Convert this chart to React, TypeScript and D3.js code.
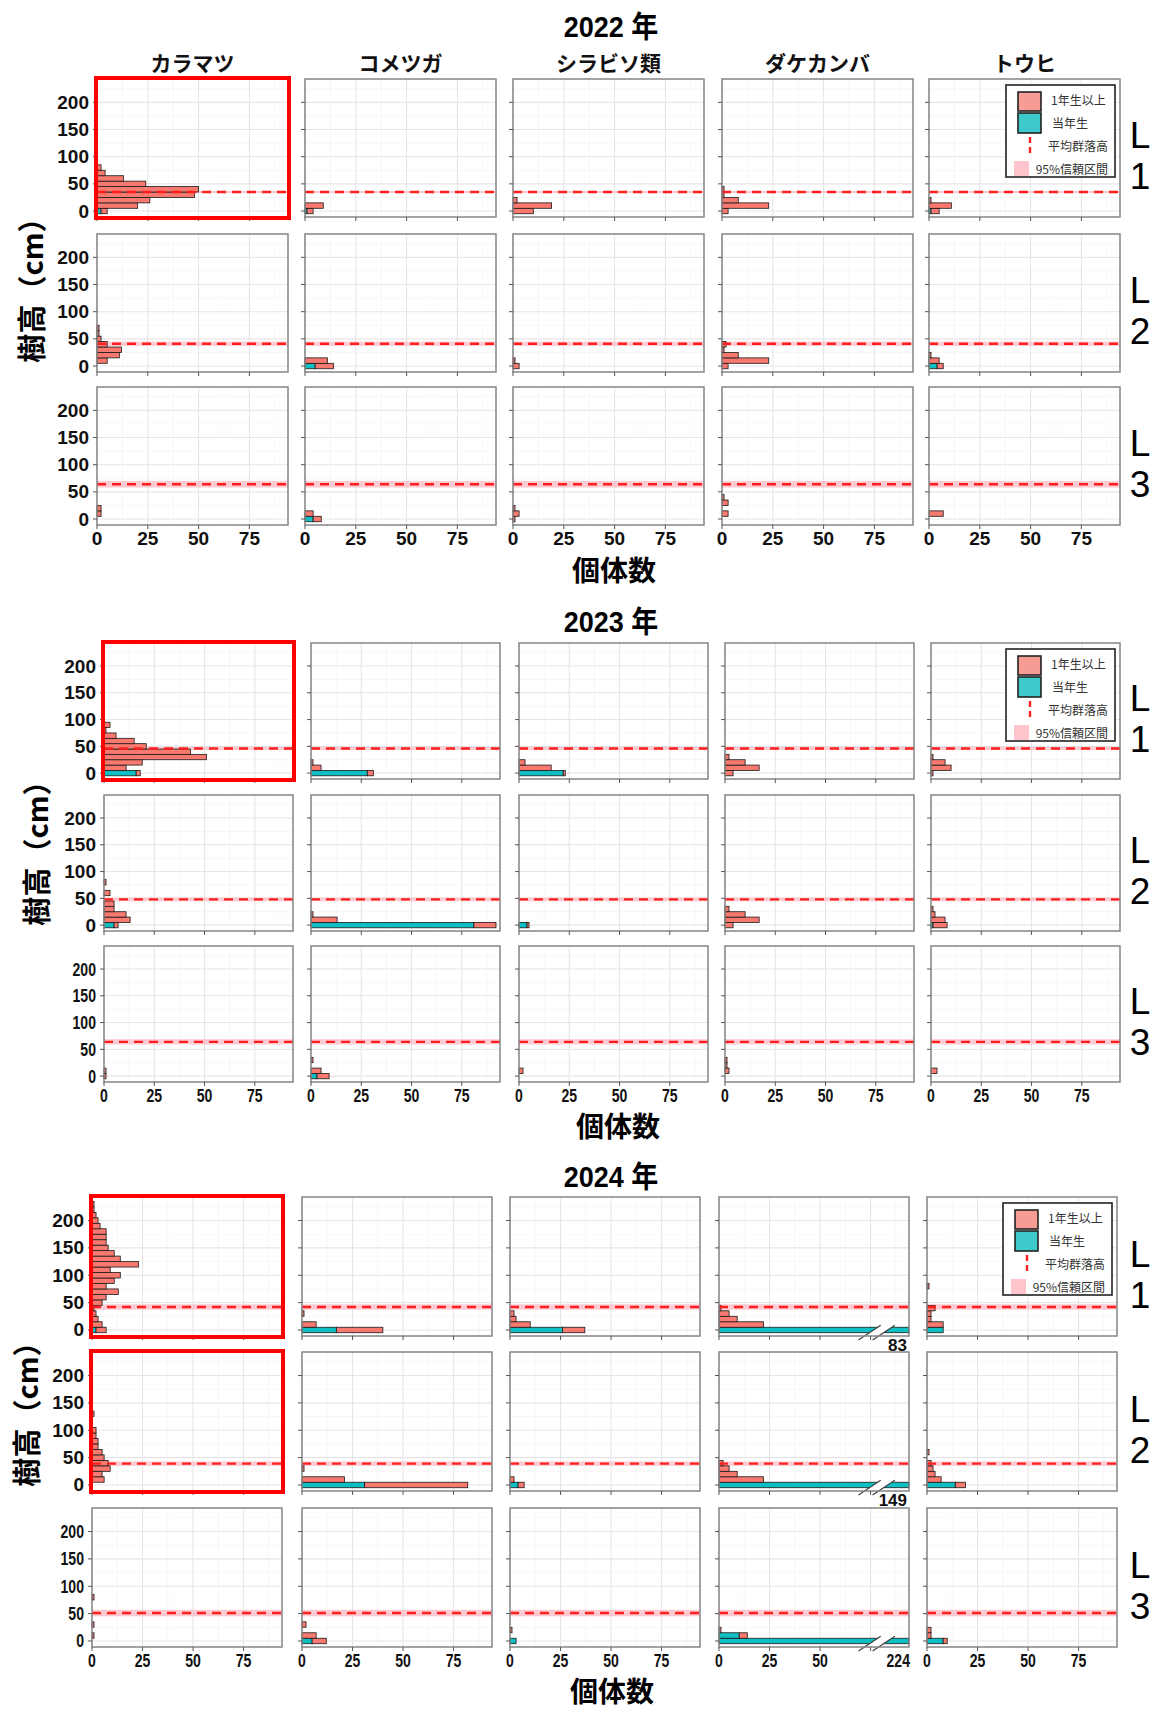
import React from "react";
import * as d3 from "d3";

const W = 1163;
const H = 1709;

const years = ["2022", "2023", "2024"];
const species = ["カラマツ", "コメツガ", "シラビソ類", "ダケカンバ", "トウヒ"];
const plots = ["L1", "L2", "L3"];
const xTicks = [0, 25, 50, 75];
const xMinor = [12.5, 37.5, 62.5, 87.5];
const yTicks = [0, 50, 100, 150, 200];
const yMinor = [25, 75, 125, 175, 225];

// [species, height bin centre (cm), 当年生, 1年生以上]
const counts2022L1 = [
  ["カラマツ", 0, 2, 3], ["カラマツ", 10, 0, 20], ["カラマツ", 20, 0, 26], ["カラマツ", 30, 0, 48],
  ["カラマツ", 40, 0, 50], ["カラマツ", 50, 0, 24], ["カラマツ", 60, 0, 13], ["カラマツ", 70, 0, 4], ["カラマツ", 80, 0, 2],
  ["コメツガ", 0, 1, 3], ["コメツガ", 10, 0, 9],
  ["シラビソ類", 0, 0, 10], ["シラビソ類", 10, 0, 19], ["シラビソ類", 20, 0, 2],
  ["ダケカンバ", 0, 0, 3], ["ダケカンバ", 10, 0, 23], ["ダケカンバ", 20, 0, 8], ["ダケカンバ", 30, 0, 1], ["ダケカンバ", 40, 0, 1],
  ["トウヒ", 0, 1, 4], ["トウヒ", 10, 0, 11], ["トウヒ", 20, 0, 1],
];
const counts2022L2 = [
  ["カラマツ", 10, 0, 5], ["カラマツ", 20, 0, 11], ["カラマツ", 30, 0, 12], ["カラマツ", 40, 0, 5],
  ["カラマツ", 50, 0, 2], ["カラマツ", 60, 0, 1], ["カラマツ", 70, 0, 1],
  ["コメツガ", 0, 5, 9], ["コメツガ", 10, 0, 11],
  ["シラビソ類", 0, 0, 3], ["シラビソ類", 10, 0, 1],
  ["ダケカンバ", 0, 0, 3], ["ダケカンバ", 10, 0, 23], ["ダケカンバ", 20, 0, 8], ["ダケカンバ", 30, 0, 1], ["ダケカンバ", 40, 0, 2],
  ["トウヒ", 0, 4, 3], ["トウヒ", 10, 0, 5], ["トウヒ", 20, 0, 1],
];
const counts2022L3 = [
  ["カラマツ", 10, 0, 2], ["カラマツ", 20, 0, 2],
  ["コメツガ", 0, 4, 4], ["コメツガ", 10, 0, 4],
  ["シラビソ類", 0, 0, 1], ["シラビソ類", 10, 0, 3], ["シラビソ類", 20, 0, 1],
  ["ダケカンバ", 10, 0, 3], ["ダケカンバ", 30, 0, 3], ["ダケカンバ", 40, 0, 1],
  ["トウヒ", 10, 0, 7],
];
const counts2023L1 = [
  ["カラマツ", 0, 16, 2], ["カラマツ", 10, 0, 11], ["カラマツ", 20, 0, 19], ["カラマツ", 30, 0, 51],
  ["カラマツ", 40, 0, 43], ["カラマツ", 50, 0, 21], ["カラマツ", 60, 0, 15], ["カラマツ", 70, 0, 6],
  ["カラマツ", 80, 0, 1], ["カラマツ", 90, 0, 3],
  ["コメツガ", 0, 28, 3], ["コメツガ", 10, 0, 5], ["コメツガ", 20, 0, 1],
  ["シラビソ類", 0, 22, 1], ["シラビソ類", 10, 0, 16], ["シラビソ類", 20, 0, 3],
  ["ダケカンバ", 0, 0, 4], ["ダケカンバ", 10, 0, 17], ["ダケカンバ", 20, 0, 10], ["ダケカンバ", 30, 0, 2],
  ["トウヒ", 0, 0, 1], ["トウヒ", 10, 0, 10], ["トウヒ", 20, 0, 7], ["トウヒ", 30, 0, 1],
];
const counts2023L2 = [
  ["カラマツ", 0, 5, 2], ["カラマツ", 10, 0, 13], ["カラマツ", 20, 0, 11], ["カラマツ", 30, 0, 5],
  ["カラマツ", 40, 0, 5], ["カラマツ", 60, 0, 3], ["カラマツ", 80, 0, 1],
  ["コメツガ", 0, 81, 11], ["コメツガ", 10, 0, 13], ["コメツガ", 20, 0, 1],
  ["シラビソ類", 0, 4, 1],
  ["ダケカンバ", 0, 0, 4], ["ダケカンバ", 10, 0, 17], ["ダケカンバ", 20, 0, 10], ["ダケカンバ", 30, 0, 2],
  ["トウヒ", 0, 1, 7], ["トウヒ", 10, 0, 7], ["トウヒ", 20, 0, 2], ["トウヒ", 30, 0, 1],
];
const counts2023L3 = [
  ["カラマツ", 0, 0, 1], ["カラマツ", 10, 0, 1],
  ["コメツガ", 0, 3, 6], ["コメツガ", 10, 0, 5], ["コメツガ", 30, 0, 1],
  ["シラビソ類", 10, 0, 2],
  ["ダケカンバ", 10, 0, 2], ["ダケカンバ", 20, 0, 1], ["ダケカンバ", 30, 0, 1],
  ["トウヒ", 10, 0, 3],
];
const counts2024L1 = [
  ["カラマツ", 0, 2, 5], ["カラマツ", 10, 0, 5], ["カラマツ", 20, 0, 3], ["カラマツ", 30, 0, 2],
  ["カラマツ", 40, 0, 1], ["カラマツ", 50, 0, 5], ["カラマツ", 60, 0, 7], ["カラマツ", 70, 0, 13],
  ["カラマツ", 80, 0, 7], ["カラマツ", 90, 0, 11], ["カラマツ", 100, 0, 14], ["カラマツ", 110, 0, 9],
  ["カラマツ", 120, 0, 23], ["カラマツ", 130, 0, 14], ["カラマツ", 140, 0, 11], ["カラマツ", 150, 0, 8],
  ["カラマツ", 160, 0, 7], ["カラマツ", 170, 0, 7], ["カラマツ", 180, 0, 7], ["カラマツ", 190, 0, 4],
  ["カラマツ", 200, 0, 3], ["カラマツ", 210, 0, 2], ["カラマツ", 220, 0, 1], ["カラマツ", 230, 0, 1],
  ["コメツガ", 0, 17, 23], ["コメツガ", 10, 0, 7], ["コメツガ", 30, 0, 1],
  ["シラビソ類", 0, 26, 11], ["シラビソ類", 10, 0, 10], ["シラビソ類", 20, 0, 3], ["シラビソ類", 30, 0, 2],
  ["ダケカンバ", 0, 83, 0], ["ダケカンバ", 10, 0, 22], ["ダケカンバ", 20, 0, 9], ["ダケカンバ", 30, 0, 5], ["ダケカンバ", 40, 0, 1],
  ["トウヒ", 0, 8, 0], ["トウヒ", 10, 0, 8], ["トウヒ", 20, 0, 2], ["トウヒ", 30, 0, 2], ["トウヒ", 40, 0, 4], ["トウヒ", 80, 0, 1],
];
const counts2024L2 = [
  ["カラマツ", 10, 0, 6], ["カラマツ", 20, 0, 5], ["カラマツ", 30, 0, 9], ["カラマツ", 40, 0, 8],
  ["カラマツ", 50, 0, 6], ["カラマツ", 60, 0, 5], ["カラマツ", 70, 0, 3], ["カラマツ", 80, 0, 3],
  ["カラマツ", 90, 0, 2], ["カラマツ", 100, 0, 2], ["カラマツ", 130, 0, 1],
  ["コメツガ", 0, 31, 51], ["コメツガ", 10, 0, 21], ["コメツガ", 30, 0, 1],
  ["シラビソ類", 0, 4, 3], ["シラビソ類", 10, 0, 2],
  ["ダケカンバ", 0, 149, 0], ["ダケカンバ", 10, 0, 22], ["ダケカンバ", 20, 0, 9], ["ダケカンバ", 30, 0, 5], ["ダケカンバ", 40, 0, 2],
  ["トウヒ", 0, 14, 5], ["トウヒ", 10, 0, 7], ["トウヒ", 20, 0, 4], ["トウヒ", 30, 0, 3], ["トウヒ", 40, 0, 2], ["トウヒ", 60, 0, 1],
];
const counts2024L3 = [
  ["カラマツ", 10, 0, 1], ["カラマツ", 30, 0, 1], ["カラマツ", 80, 0, 1],
  ["コメツガ", 0, 5, 7], ["コメツガ", 10, 0, 7], ["コメツガ", 30, 0, 2],
  ["シラビソ類", 0, 3, 0], ["シラビソ類", 20, 0, 1],
  ["ダケカンバ", 0, 224, 0], ["ダケカンバ", 10, 10, 4], ["ダケカンバ", 20, 0, 1],
  ["トウヒ", 0, 8, 2], ["トウヒ", 10, 0, 2], ["トウヒ", 20, 0, 2],
];

// 平均群落高 and half width of the 95% interval, per plot L1..L3
const mean2022 = [35, 41, 64];
const ci2022 = [2, 4, 6];
const mean2023 = [46, 48, 64];
const ci2023 = [3, 3.5, 5];
const mean2024 = [42, 39, 51];
const ci2024 = [5, 4, 6];

const highlighted = [["2022", "L1", "カラマツ"], ["2023", "L1", "カラマツ"], ["2024", "L1", "カラマツ"], ["2024", "L2", "カラマツ"]];
const brokenAxis = [["2024", "L1", "ダケカンバ"], ["2024", "L2", "ダケカンバ"], ["2024", "L3", "ダケカンバ"]];
const BREAK_AT = 75; // bars longer than this are cut in broken panels

const countsByYear = {
  "2022": [counts2022L1, counts2022L2, counts2022L3],
  "2023": [counts2023L1, counts2023L2, counts2023L3],
  "2024": [counts2024L1, counts2024L2, counts2024L3],
};
const meanByYear = { "2022": mean2022, "2023": mean2023, "2024": mean2024 };
const ciByYear = { "2022": ci2022, "2023": ci2023, "2024": ci2024 };

// page layout of the three year blocks
const blocks = [
  { year: "2022", titleY: 37, headers: true, colX: [97, 305, 513, 722, 929], pw: 191, rowY: [79, 234, 387], ph: 138, xTitle: [614, 581], yTitle: [30, 283], narrow: false },
  { year: "2023", titleY: 632, headers: false, colX: [104, 311, 519, 725, 931], pw: 189, rowY: [643, 795, 946], ph: 136, xTitle: [618, 1137], yTitle: [35, 846], narrow: true },
  { year: "2024", titleY: 1187, headers: false, colX: [92, 302, 510, 719, 927], pw: 190, rowY: [1197, 1352, 1508], ph: 139, xTitle: [612, 1702], yTitle: [25, 1407], narrow: true },
];

const NUM = "'Liberation Sans', Arial, 'DejaVu Sans', sans-serif";
const JP = "'Noto Sans CJK JP', 'Noto Sans CJK SC', sans-serif";
const OLD = "#F7796F";
const NEW = "#0DBFC3";

const isIn = (list, y, p, s) => list.some(d => d[0] === y && d[1] === p && d[2] === s);

const Txt = ({ x, y, sx = 1, children, ...rest }) => (
  <text transform={`translate(${x},${y}) scale(${sx},1)`} {...rest}>{children}</text>
);

const Panel = ({ year, pi, si, x0, y0, w, h, narrow }) => {
  const plot = plots[pi];
  const sp = species[si];
  const xs = d3.scaleLinear().domain([0, 94]).range([x0, x0 + w]).clamp(true);
  const ys = d3.scaleLinear().domain([-11, 243]).range([y0 + h, y0]);
  const rows = countsByYear[year][pi].filter(d => d[0] === sp);
  const mean = meanByYear[year][pi];
  const ci = ciByYear[year][pi];
  const red = isIn(highlighted, year, plot, sp);
  const broken = isIn(brokenAxis, year, plot, sp);
  const xMax = xs.domain()[1];
  const brokenRow = broken ? rows.find(d => d[2] + d[3] > BREAK_AT) : null;
  // value → drawn length, with the cut bar running on to the panel edge
  const len = (v, row) => (brokenRow === row && v > BREAK_AT ? xs(xMax) : xs(v));
  const showX = pi === 2;
  const showY = si === 0;
  const lblSx = narrow && pi === 2 ? 0.74 : 1;
  const bottom = y0 + h;

  return (
    <g>
      <rect x={x0} y={y0} width={w} height={h} fill="#fff" />
      {xMinor.map(v => <line key={"xm" + v} x1={xs(v)} x2={xs(v)} y1={y0} y2={bottom} stroke="#F3F3F3" strokeWidth={0.7} />)}
      {yMinor.map(v => <line key={"ym" + v} x1={x0} x2={x0 + w} y1={ys(v)} y2={ys(v)} stroke="#F3F3F3" strokeWidth={0.7} />)}
      {xTicks.map(v => <line key={"xg" + v} x1={xs(v)} x2={xs(v)} y1={y0} y2={bottom} stroke="#E6E6E6" strokeWidth={1.1} />)}
      {yTicks.map(v => <line key={"yg" + v} x1={x0} x2={x0 + w} y1={ys(v)} y2={ys(v)} stroke="#E6E6E6" strokeWidth={1.1} />)}
      <rect x={x0} width={w} y={ys(mean + ci)} height={ys(mean - ci) - ys(mean + ci)} fill="#FFB3BE" opacity={0.7} />
      {rows.map((row, i) => {
        const [, bin, cur, old] = row;
        const yT = ys(bin + 5);
        const bh = ys(bin - 5) - ys(bin + 5);
        return (
          <g key={i}>
            {cur > 0 && (
              <rect x={xs(0)} y={yT} width={len(cur, row) - xs(0)} height={bh}
                fill={NEW} stroke="#1a1a1a" strokeWidth={0.8} />
            )}
            {old > 0 && (
              <rect x={len(cur, row)} y={yT} width={len(cur + old, row) - len(cur, row)} height={bh}
                fill={OLD} stroke="#1a1a1a" strokeWidth={0.8} />
            )}
          </g>
        );
      })}
      <line x1={x0} x2={x0 + w} y1={ys(mean)} y2={ys(mean)} stroke="#FF1F1F" strokeWidth={2.4} strokeDasharray="9,6" />
      {brokenRow && (() => {
        const yb = bottom + 4;
        const yt = ys(brokenRow[1] + 5) - 2;
        return (
          <g>
            <polygon points={`${xs(69)},${yb} ${xs(80)},${yt} ${xs(87)},${yt} ${xs(76)},${yb}`} fill="#fff" />
            <line x1={xs(69)} y1={yb} x2={xs(80)} y2={yt} stroke="#444" strokeWidth={1.3} />
            <line x1={xs(76)} y1={yb} x2={xs(87)} y2={yt} stroke="#444" strokeWidth={1.3} />
          </g>
        );
      })()}
      <rect x={x0} y={y0} width={w} height={h} fill="none" stroke="#858585" strokeWidth={1.5} />
      {yTicks.map(v => <line key={"yt" + v} x1={x0 - 4} x2={x0} y1={ys(v)} y2={ys(v)} stroke="#555" strokeWidth={1} />)}
      {xTicks.map(v => <line key={"xt" + v} x1={xs(v)} x2={xs(v)} y1={bottom} y2={bottom + 4} stroke="#555" strokeWidth={1} />)}
      {red && <rect x={x0 - 1} y={y0 - 1} width={w + 2} height={h + 2} fill="none" stroke="#FF0000" strokeWidth={4} />}
      {showY && yTicks.map(v => (
        <Txt key={"yl" + v} x={x0 - 8} y={ys(v) + 6.5} sx={lblSx} textAnchor="end" fontFamily={NUM}
          fontWeight={700} fontSize={19} fill="#111">{v}</Txt>
      ))}
      {showX && xTicks.map(v => (brokenRow && v === 75 ? null : (
        <Txt key={"xl" + v} x={xs(v)} y={bottom + 20} sx={lblSx} textAnchor="middle" fontFamily={NUM}
          fontWeight={700} fontSize={19} fill="#111">{v}</Txt>
      )))}
      {brokenRow && showX && (
        <Txt x={xs(xMax) + 1} y={bottom + 20} sx={lblSx} textAnchor="end" fontFamily={NUM}
          fontWeight={700} fontSize={19} fill="#111">{brokenRow[2] + brokenRow[3]}</Txt>
      )}
      {brokenRow && !showX && (
        <text x={xs(xMax) - 2} y={bottom + 15} textAnchor="end" fontFamily={NUM}
          fontWeight={700} fontSize={17} fill="#111">{brokenRow[2] + brokenRow[3]}</text>
      )}
    </g>
  );
};

const Legend = ({ right, top }) => {
  const bx = right - 114;
  const by = top + 6;
  return (
    <g>
      <rect x={bx} y={by} width={109} height={92} fill="#fff" stroke="#222" strokeWidth={1.6} />
      <rect x={bx + 12} y={by + 7} width={23} height={19} fill="#F59C95" stroke="#222" strokeWidth={1.6} />
      <rect x={bx + 12} y={by + 28} width={23} height={20} fill="#3ECACB" stroke="#222" strokeWidth={1.6} />
      <line x1={bx + 24} x2={bx + 24} y1={by + 52} y2={by + 72} stroke="#FF1F1F" strokeWidth={2.4} strokeDasharray="6,4" />
      <rect x={bx + 8} y={by + 76} width={15} height={15} fill="#FFC4CC" />
      <text x={bx + 45} y={by + 20} fontFamily={JP} fontSize={12} fill="#333">1年生以上</text>
      <text x={bx + 46} y={by + 43} fontFamily={JP} fontSize={12} fill="#333">当年生</text>
      <text x={bx + 102} y={by + 66} textAnchor="end" fontFamily={JP} fontSize={12} fill="#333">平均群落高</text>
      <text x={bx + 102} y={by + 89} textAnchor="end" fontFamily={JP} fontSize={12} fill="#333">95%信頼区間</text>
    </g>
  );
};

const YearBlock = ({ b }) => (
  <g>
    <Txt x={611} y={b.titleY} sx={0.9} textAnchor="middle" fontFamily={`${NUM.split(",")[0]}, ${JP}`}
      fontWeight={700} fontSize={30} fill="#000">{`${b.year} 年`}</Txt>
    {b.headers && species.map((s, si) => (
      <text key={s} x={b.colX[si] + b.pw / 2} y={71} textAnchor="middle" fontFamily={JP}
        fontWeight={700} fontSize={21} fill="#111">{s}</text>
    ))}
    {plots.map((p, pi) => species.map((s, si) => (
      <Panel key={p + s} year={b.year} pi={pi} si={si} x0={b.colX[si]} y0={b.rowY[pi]}
        w={b.pw} h={b.ph} narrow={b.narrow} />
    )))}
    <Legend right={b.colX[4] + b.pw} top={b.rowY[0]} />
    {plots.map((p, pi) => {
      const cy = b.rowY[pi] + b.ph / 2;
      return (
        <g key={p}>
          <text x={1140} y={cy} textAnchor="middle" fontFamily={NUM} fontSize={37} fill="#000">{p[0]}</text>
          <text x={1140} y={cy + 41} textAnchor="middle" fontFamily={NUM} fontSize={37} fill="#000">{p[1]}</text>
        </g>
      );
    })}
    <text x={b.xTitle[0]} y={b.xTitle[1]} textAnchor="middle" fontFamily={JP} fontWeight={700}
      fontSize={28} fill="#000">個体数</text>
    <text transform={`translate(${b.yTitle[0]},${b.yTitle[1]}) rotate(-90)`} textAnchor="middle"
      dominantBaseline="central" fontFamily={JP} fontWeight={700} fontSize={29} fill="#000">樹高（cm）</text>
  </g>
);

export default function App() {
  return (
    <svg width={W} height={H} viewBox={`0 0 ${W} ${H}`}
      style={{ position: "absolute", left: 0, top: 0, background: "#fff" }}>
      <rect width={W} height={H} fill="#fff" />
      {blocks.filter(b => years.includes(b.year)).map(b => <YearBlock key={b.year} b={b} />)}
    </svg>
  );
}
